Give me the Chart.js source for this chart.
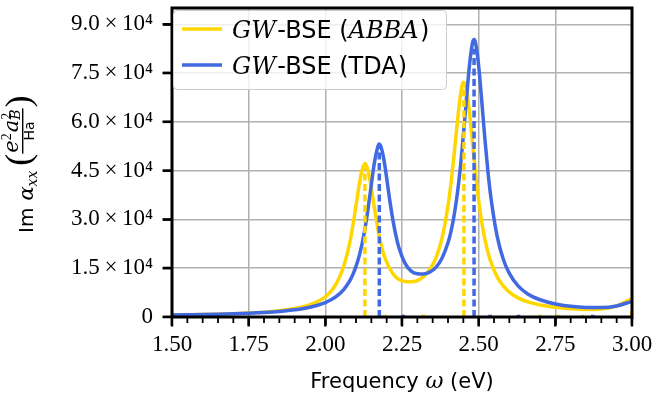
<!DOCTYPE html>
<html>
<head>
<meta charset="utf-8">
<script src="https://cdn.jsdelivr.net/npm/chart.js@4.4.1/dist/chart.umd.min.js"></script>
<style>
  html, body { margin: 0; padding: 0; background: #fff; }
  canvas { display: block; }
</style>
</head>
<body>
<canvas id="chart" width="656" height="396"></canvas>
<script>
// photon energy grid (eV)
const freq = [1.50, 1.55, 1.60, 1.65, 1.70, 1.75, 1.80, 1.85, 1.90, 1.95,
  2.00, 2.02, 2.04, 2.06, 2.08, 2.09, 2.10, 2.11, 2.12, 2.13,
  2.14, 2.15, 2.16, 2.17, 2.175, 2.18, 2.19, 2.20, 2.21, 2.22,
  2.23, 2.24, 2.26, 2.28, 2.30, 2.32, 2.34, 2.36, 2.38, 2.40,
  2.41, 2.42, 2.43, 2.44, 2.45, 2.46, 2.47, 2.48, 2.485, 2.49,
  2.50, 2.51, 2.52, 2.53, 2.54, 2.56, 2.58, 2.60, 2.63, 2.66,
  2.70, 2.75, 2.80, 2.85, 2.90, 2.95, 3.00];

// Im alpha_xx, full ABBA
const imABBA = [600, 680, 770, 880, 1020, 1220, 1500, 1920, 2600, 3800,
  6200, 8100, 11000, 15600, 23000, 28200, 34200, 40400, 45200, 47200,
  44700, 39600, 33550, 27850, 25350, 23100, 19400, 16900, 14900, 13400,
  12300, 11500, 10900, 10800, 11200, 12400, 14500, 18000, 24000, 34200,
  41300, 50000, 59500, 67800, 72200, 70300, 62950, 53450, 48600, 44000,
  35800, 29200, 24000, 20000, 16850, 12400, 9550, 7650, 5800, 4650,
  3700, 3000, 2550, 2300, 2450, 3400, 5700];

// Im alpha_xx, TDA
const imTDA = [600, 680, 760, 870, 1000, 1170, 1400, 1720, 2200, 3000,
  4450, 5350, 6650, 8450, 11200, 13100, 15550, 18650, 22600, 27600,
  33750, 40700, 47400, 51950, 53200, 52700, 48900, 42700, 36000, 30000,
  25100, 21300, 16500, 14100, 13300, 13200, 13800, 15200, 18000, 22800,
  26400, 31300, 37600, 45700, 55650, 66850, 77400, 84300, 85300, 84200,
  77200, 66500, 55100, 44950, 36650, 24950, 17850, 13400, 9400, 7100,
  5300, 4000, 3300, 2950, 2900, 3400, 4800];

// excitation sticks
const stickFreqABBA = [2.129, 2.452, 2.999, 2.194, 2.32, 2.70, 2.759, 2.839];
const stickHeightABBA = [46000, 70500, 1800, 700, 700, 700, 700, 700];
const stickFreqTDA = [2.176, 2.485, 2.254, 2.537, 2.63, 2.872];
const stickHeightTDA = [52000, 82500, 700, 700, 700, 700];

const xTicks = [1.5, 1.75, 2.0, 2.25, 2.5, 2.75, 3.0];
const xTickLabels = ["1.50", "1.75", "2.00", "2.25", "2.50", "2.75", "3.00"];
const yTicks = [0, 15000, 30000, 45000, 60000, 75000, 90000];
const yTickLabels = ["0", "1.5\u2009×\u200910⁴", "3.0\u2009×\u200910⁴", "4.5\u2009×\u200910⁴",
  "6.0\u2009×\u200910⁴", "7.5\u2009×\u200910⁴", "9.0\u2009×\u200910⁴"];

const GOLD = "#ffd700";
const BLUE = "#4169e1";
const SANS = '"DejaVu Sans"';
const MATH = '"DejaVu Serif"';

const curve = (label, ys, color, order) => ({
  label: label,
  data: freq.map((x, i) => ({ x: x, y: ys[i] })),
  borderColor: color,
  borderWidth: 3.5,
  pointRadius: 0,
  fill: false,
  cubicInterpolationMode: "monotone",
  borderJoinStyle: "round",
  order: order,
});

const sticks = (xs, hs, color) =>
  xs.map((x, i) => ({
    data: [{ x: x, y: 0 }, { x: x, y: hs[i] }],
    borderColor: color,
    borderWidth: 3.5,
    borderDash: [7, 3.5],
    pointRadius: 0,
    fill: false,
    order: 0,
  }));

// frame, ticks, legend and axis titles
const decor = {
  id: "decor",
  afterDraw(chart) {
    const ctx = chart.ctx;
    const a = chart.chartArea;
    const xs = chart.scales.x;
    const ys = chart.scales.y;
    ctx.save();
    ctx.setLineDash([]);

    // ticks, major and minor
    ctx.strokeStyle = "#000000";
    for (let k = 30; k <= 60; k++) {
      const px = xs.getPixelForValue(k / 20);
      const major = k % 5 === 0;
      ctx.lineWidth = major ? 2.5 : 1.8;
      ctx.beginPath();
      ctx.moveTo(px, a.bottom);
      ctx.lineTo(px, a.bottom + (major ? 9.5 : 6));
      ctx.stroke();
    }
    ctx.lineWidth = 2.5;
    yTicks.forEach((v) => {
      const py = ys.getPixelForValue(v);
      ctx.beginPath();
      ctx.moveTo(a.left, py);
      ctx.lineTo(a.left - 9.5, py);
      ctx.stroke();
    });

    // frame
    ctx.lineWidth = 3;
    ctx.strokeRect(a.left, a.top, a.right - a.left, a.bottom - a.top);

    // legend
    ctx.beginPath();
    ctx.roundRect(173.5, 10.5, 273, 79, 4);
    ctx.fillStyle = "rgba(255,255,255,0.8)";
    ctx.fill();
    ctx.lineWidth = 1;
    ctx.strokeStyle = "#cccccc";
    ctx.stroke();

    const entries = [
      { color: GOLD, y: 29, parts: [["GW", "m"], ["-BSE (", "s"], ["ABBA", "m"], [")", "s"]] },
      { color: BLUE, y: 65, parts: [["GW", "m"], ["-BSE (TDA)", "s"]] },
    ];
    entries.forEach((e) => {
      ctx.beginPath();
      ctx.strokeStyle = e.color;
      ctx.lineWidth = 3.5;
      ctx.moveTo(182, e.y);
      ctx.lineTo(222, e.y);
      ctx.stroke();
      let u = 232;
      ctx.fillStyle = "#000";
      ctx.textBaseline = "alphabetic";
      ctx.textAlign = "left";
      e.parts.forEach((p) => {
        ctx.font = p[1] === "m" ? "italic 24px " + MATH : "24px " + SANS;
        ctx.fillText(p[0], u, e.y + 9);
        u += ctx.measureText(p[0]).width + (p[1] === "m" ? 1.5 : 0);
      });
    });

    // x title
    ctx.fillStyle = "#000";
    const xParts = [["Frequency ", "21px " + SANS], ["ω", "italic 22px " + MATH], [" (eV)", "21px " + SANS]];
    let total = 0;
    xParts.forEach((p) => { ctx.font = p[1]; total += ctx.measureText(p[0]).width; });
    let u = (a.left + a.right) / 2 - total / 2;
    xParts.forEach((p) => {
      ctx.font = p[1];
      ctx.fillText(p[0], u, 388);
      u += ctx.measureText(p[0]).width;
    });

    // y title, rotated
    ctx.translate(33, 233);
    ctx.rotate(-Math.PI / 2);
    u = 0;
    const put = (t, font, v) => {
      ctx.font = font;
      ctx.fillText(t, u, v || 0);
      const w = ctx.measureText(t).width;
      u += w;
      return w;
    };
    put("Im", "20px " + SANS);
    u += 7;
    put("α", "italic 21px " + MATH);
    put("xx", "italic 14px " + MATH, 4);
    u += 5;
    put("(", '36px "Liberation Serif"', -3);
    const f0 = u + 1;
    u = f0;
    put("e", "italic 21px " + MATH, -15.5);
    put("2", '14px "Liberation Serif"', -22.5);
    u += 1;
    put("a", "italic 21px " + MATH, -15.5);
    const u1 = u;
    const wb = put("B", "italic 14px " + MATH, -12.8);
    u = u1;
    const w2 = put("2", '14px "Liberation Serif"', -22.5);
    u = u1 + Math.max(wb, w2);
    const numW = u - f0;
    ctx.fillRect(f0 - 1, -11, numW + 2, 1.4);
    ctx.font = "14px " + SANS;
    const hw = ctx.measureText("Ha").width;
    ctx.fillText("Ha", f0 + numW / 2 - hw / 2, 0.5);
    u = f0 + numW + 2;
    put(")", '36px "Liberation Serif"', -3);

    ctx.restore();
  },
};

new Chart(document.getElementById("chart"), {
  type: "line",
  data: {
    datasets: [
      ...sticks(stickFreqABBA, stickHeightABBA, GOLD),
      ...sticks(stickFreqTDA, stickHeightTDA, BLUE),
      curve("TDA", imTDA, BLUE, 1),
      curve("ABBA", imABBA, GOLD, 2),
    ],
  },
  options: {
    responsive: false,
    animation: false,
    devicePixelRatio: 1,
    layout: { padding: { left: 0, right: 24, top: 8, bottom: 0 } },
    plugins: { legend: { display: false }, tooltip: { enabled: false } },
    scales: {
      x: {
        type: "linear",
        min: 1.5,
        max: 3.0,
        afterBuildTicks: (s) => { s.ticks = xTicks.map((v) => ({ value: v })); },
        afterFit: (s) => { s.height = 79; s.paddingLeft = 0; s.paddingRight = 0; },
        ticks: {
          callback: (v, i) => xTickLabels[i],
          font: { family: "Liberation Serif", size: 23 },
          color: "#000",
          padding: 6,
          maxRotation: 0,
          autoSkip: false,
        },
        grid: { color: "#b0b0b0", lineWidth: 1.5, tickColor: "#000", tickLength: 8, tickWidth: 2 },
        border: { display: false },
      },
      y: {
        type: "linear",
        min: 0,
        max: 95000,
        afterBuildTicks: (s) => { s.ticks = yTicks.map((v) => ({ value: v })); },
        afterFit: (s) => { s.width = 172; s.paddingTop = 0; s.paddingBottom = 0; },
        ticks: {
          callback: (v, i) => yTickLabels[i],
          font: { family: "Liberation Serif", size: 23 },
          color: "#000",
          padding: 10,
          autoSkip: false,
        },
        grid: { color: "#b0b0b0", lineWidth: 1.5, tickColor: "#000", tickLength: 9, tickWidth: 2 },
        border: { display: false },
      },
    },
  },
  plugins: [decor],
});
</script>
</body>
</html>
